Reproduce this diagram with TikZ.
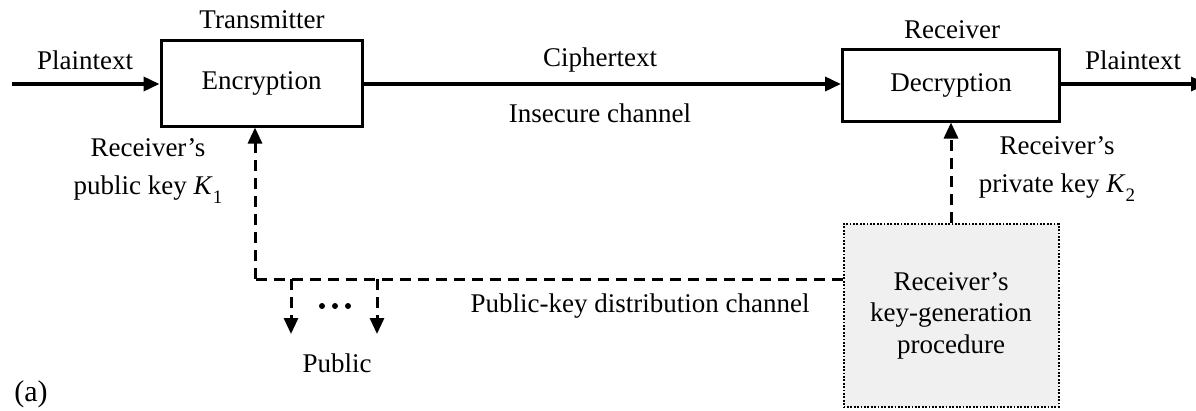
\documentclass[tikz,border=0pt]{standalone}
\usepackage{fontspec}
\setmainfont{Liberation Serif}
\usetikzlibrary{arrows.meta}
\tikzset{
  lbl/.style={inner sep=0pt, font=\fontsize{27}{38}\selectfont, align=center},
  blk/.style={draw, line width=3pt, inner sep=0pt, font=\fontsize{27}{30}\selectfont},
  gen/.style={draw, line width=2pt, dash pattern=on 1.8pt off 1.6pt, fill=black!6, inner sep=0pt, align=center, font=\fontsize{27}{31.5}\selectfont},
  sig/.style={line width=3.6pt, -{Triangle[length=16pt,width=14pt]}},
  key/.style={line width=3pt, dash pattern=on 11pt off 7pt, -{Triangle[length=16pt,width=14pt]}},
  keyline/.style={line width=3pt, dash pattern=on 11pt off 7pt},
}
\newcommand{\keysub}[2]{\textit{#1}\raisebox{-0.3em}{\fontsize{19}{19}\selectfont #2}}
\begin{document}
\begin{tikzpicture}[x=1pt,y=-1pt]
\useasboundingbox (0,0) rectangle (1196,410);
% blocks
\node[blk, minimum width=201pt, minimum height=86pt] (enc) at (261.5,83) {Encryption};
\node[blk, minimum width=217pt, minimum height=72pt] (dec) at (951,85) {Decryption};
\node[gen, minimum width=215pt, minimum height=183pt] (kg) at (951,315.5) {Receiver’s\\key-generation\\procedure};
% labels
\node[lbl] (tx) at (262,20) {Transmitter};
\node[lbl] (rx) at (952,30) {Receiver};
\node[lbl] (pt1) at (85,60) {Plaintext};
\node[lbl] (pt2) at (1133,60) {Plaintext};
\node[lbl] (ct) at (600,60) {Ciphertext};
\node[lbl] (ic) at (600,113) {Insecure channel};
\node[lbl] (pk) at (148,171) {Receiver’s\\public key \keysub{K}{1}};
\node[lbl] (sk) at (1057,169) {Receiver’s\\private key \keysub{K}{2}};
\node[lbl] (pkd) at (640,306) {Public-key distribution channel};
\node[lbl] (pub) at (337,363) {Public};
\node[inner sep=0pt, font=\fontsize{30}{30}\selectfont] (fa) at (31,394) {(a)};
% coordinates
\coordinate (in) at (12,84);
\coordinate (out) at (1207,84);
\coordinate (c) at (255,279);
\coordinate (b1) at (291,279);
\coordinate (b2) at (377,279);
\coordinate (p1) at (291,334);
\coordinate (p2) at (377,334);
% main channel
\draw[sig] (in) -- (enc.west |- in);
\draw[sig] (enc.east |- in) -- (dec.west |- in);
\draw[sig] (dec.east |- in) -- (out);
% key paths
\draw[keyline] (kg.west |- c) -- (c);
\draw[key] (c) -- (c |- enc.south);
\draw[key] (b1) -- (p1);
\draw[key] (b2) -- (p2);
\draw[key] (kg.north) -- (dec.south);
% dots
\foreach \x in {322,335,348} \fill (\x,306) circle (3pt);
\end{tikzpicture}
\end{document}
